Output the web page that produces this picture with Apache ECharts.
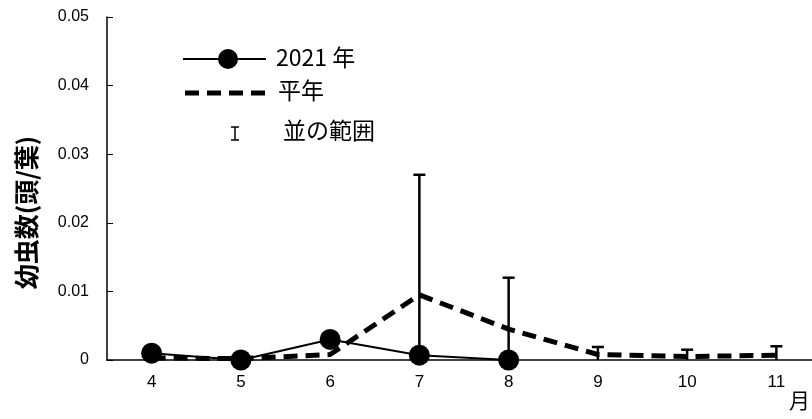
<!DOCTYPE html>
<html><head><meta charset="utf-8">
<script src="https://cdn.jsdelivr.net/npm/echarts@6/dist/echarts.min.js"></script>
<style>html,body{margin:0;padding:0;background:#fff;overflow:hidden}#c{width:821px;height:419px}</style>
</head><body><div id="c"></div>
<script>
const months = ['4','5','6','7','8','9','10','11'];
const y2021 = [0.001, 0, 0.003, 0.0007, 0, null, null, null];
const normal = [0.0003, 0.0002, 0.0008, 0.0095, 0.0045, 0.0008, 0.0005, 0.0007];
const rangeLow = [null, null, null, 0, 0, 0, 0, 0];
const rangeHigh = [null, null, null, 0.027, 0.012, 0.0019, 0.0015, 0.002];
const yTicks = ['0', '0.01', '0.02', '0.03', '0.04', '0.05'];

const errData = [];
months.forEach((m, i) => { if (rangeHigh[i] != null) errData.push([i, rangeLow[i], rangeHigh[i]]); });

const jp = '"Noto Sans CJK JP", sans-serif';
const lat = '"Liberation Sans", Arial, sans-serif';

const chart = echarts.init(document.getElementById('c'), null, {renderer: 'canvas'});
chart.setOption({
  animation: false,
  grid: {left: 107, top: 17, right: 0, bottom: 59},
  xAxis: {
    type: 'category', data: months, boundaryGap: true,
    axisLine: {lineStyle: {color: '#000', width: 1.5}},
    axisTick: {inside: true, length: 5, lineStyle: {color: '#000'}},
    axisLabel: {color: '#000', fontFamily: lat, fontSize: 17, margin: 14},
    splitLine: {show: false}
  },
  yAxis: {
    type: 'value', min: 0, max: 0.05, interval: 0.01,
    name: '幼虫数(頭/葉)', nameLocation: 'middle', nameRotate: 90, nameGap: 68,
    nameTextStyle: {color: '#000', fontFamily: jp, fontSize: 25, fontWeight: 'bold', padding: [0, 48, 0, 0]},
    axisLine: {show: true, lineStyle: {color: '#000', width: 1.5}},
    axisTick: {show: true, inside: true, length: 6, lineStyle: {color: '#000'}},
    axisLabel: {color: '#000', fontFamily: lat, fontSize: 16, margin: 18,
      formatter: v => yTicks[Math.round(v / 0.01)]},
    splitLine: {show: false}
  },
  graphic: [
    {type: 'line', shape: {x1: 183, y1: 59, x2: 266, y2: 59}, style: {stroke: '#000', lineWidth: 2}},
    {type: 'circle', shape: {cx: 228, cy: 59, r: 10}, style: {fill: '#000'}},
    {type: 'text', left: 276, top: 46, style: {text: '2021 年', font: '23px ' + jp, fill: '#000'}},
    {type: 'line', shape: {x1: 185, y1: 93, x2: 270, y2: 93}, style: {stroke: '#000', lineWidth: 5, lineDash: [14, 8]}},
    {type: 'text', left: 278, top: 79, style: {text: '平年', font: '23px ' + jp, fill: '#000'}},
    {type: 'line', shape: {x1: 235, y1: 127, x2: 235, y2: 140}, style: {stroke: '#000', lineWidth: 1.5}},
    {type: 'line', shape: {x1: 231, y1: 127, x2: 239, y2: 127}, style: {stroke: '#000', lineWidth: 1.5}},
    {type: 'line', shape: {x1: 231, y1: 140, x2: 239, y2: 140}, style: {stroke: '#000', lineWidth: 1.5}},
    {type: 'text', left: 283, top: 119, style: {text: '並の範囲', font: '23px ' + jp, fill: '#000'}},
    {type: 'text', left: 789, top: 390, style: {text: '月', font: '21px ' + jp, fill: '#000'}}
  ],
  series: [
    {name: '2021年', type: 'line', data: y2021, z: 2,
      symbol: 'circle', symbolSize: 21, itemStyle: {color: '#000'},
      lineStyle: {color: '#000', width: 2}},
    {name: '平年', type: 'line', data: normal, z: 3, symbol: 'none',
      lineStyle: {color: '#000', width: 5, type: [14, 8]}},
    {name: '並の範囲', type: 'custom', z: 4, data: errData,
      renderItem: function (params, api) {
        const x = api.value(0);
        const lo = api.coord([x, api.value(1)]);
        const hi = api.coord([x, api.value(2)]);
        const hw = 6;
        const st = {stroke: '#000', lineWidth: 2.5};
        return {type: 'group', children: [
          {type: 'line', shape: {x1: lo[0], y1: lo[1], x2: hi[0], y2: hi[1]}, style: st},
          {type: 'line', shape: {x1: hi[0] - hw, y1: hi[1], x2: hi[0] + hw, y2: hi[1]}, style: st}
        ]};
      }}
  ]
});
</script></body></html>
